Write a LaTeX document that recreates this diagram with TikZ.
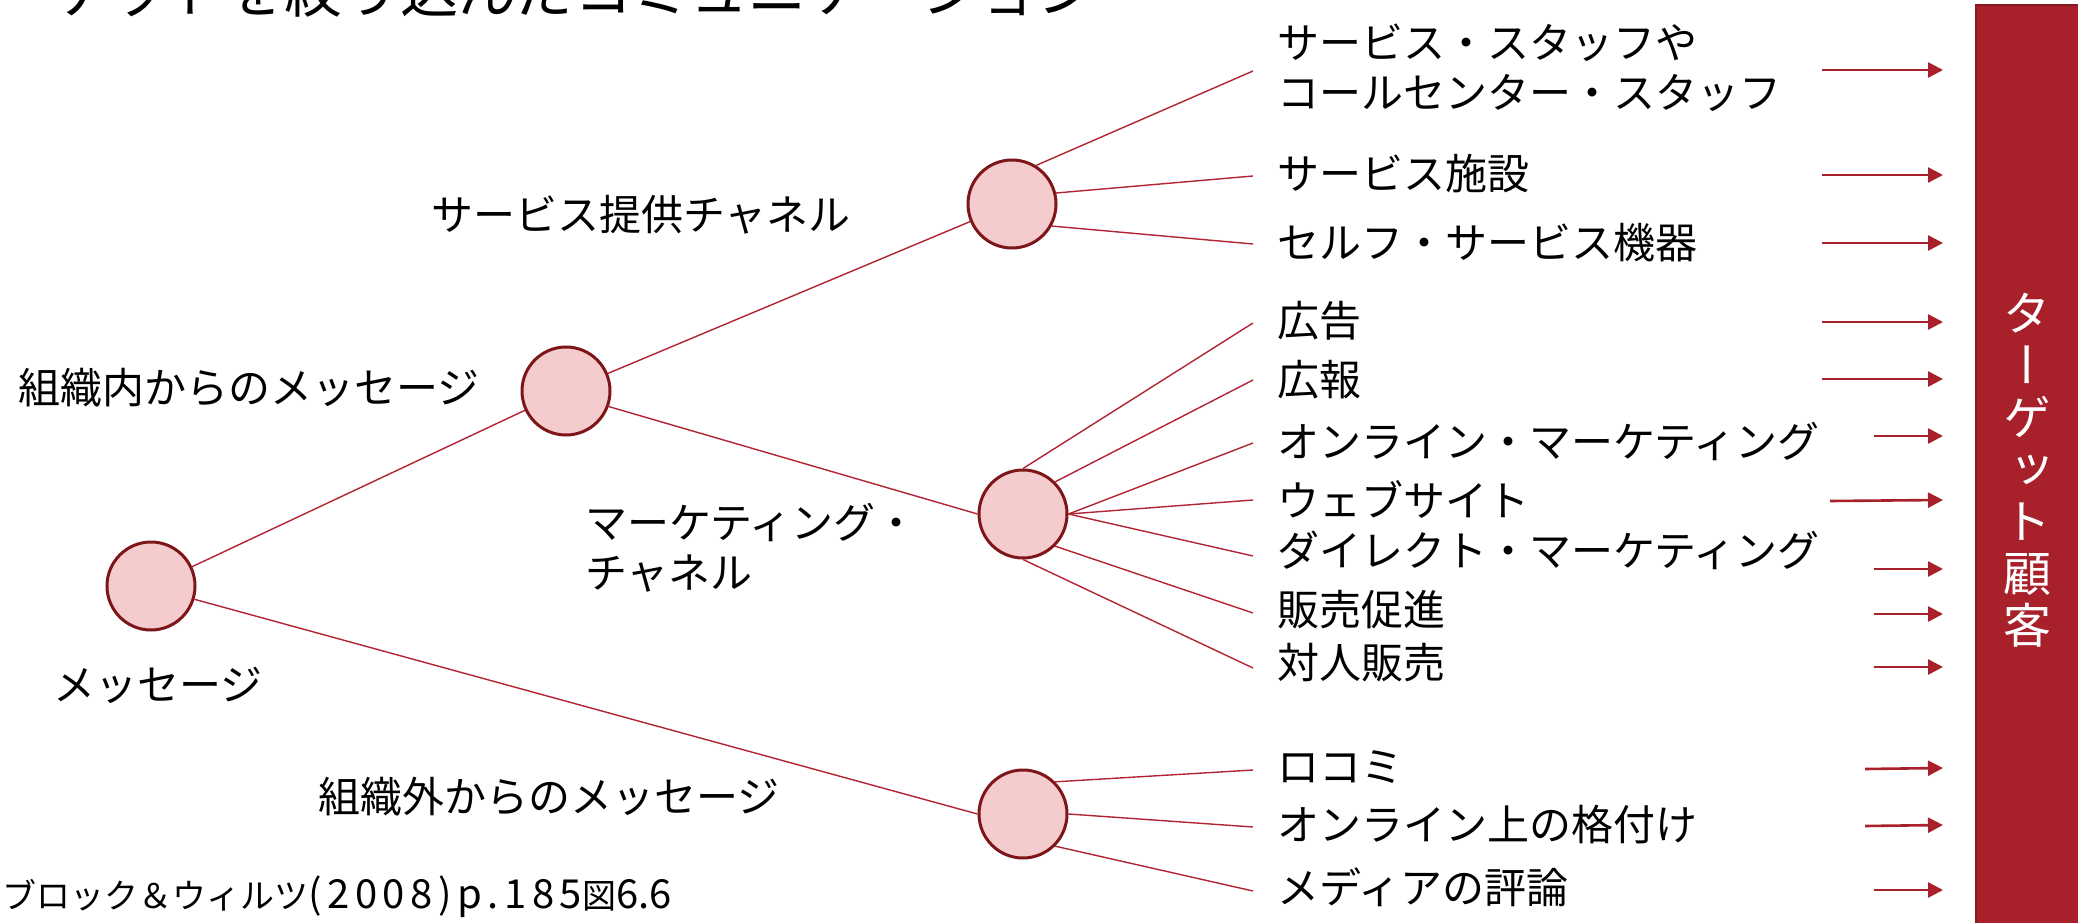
\documentclass[tikz,border=0pt]{standalone}
\usepackage{fontspec}
\setmainfont{Noto Sans CJK JP}
\newfontfamily\vertfont[RawFeature=+vert]{Noto Sans CJK JP}
\newfontfamily\widelatin[LetterSpace=14]{Noto Sans CJK JP}
\usetikzlibrary{arrows.meta}
\definecolor{linered}{HTML}{B22333}
\definecolor{circfill}{HTML}{F4CCCE}
\definecolor{circborder}{HTML}{7D1519}
\definecolor{boxred}{HTML}{A82029}
\definecolor{boxdark}{HTML}{861A20}
\begin{document}
\begin{tikzpicture}[x=1pt,y=-1pt,
  dot/.style={circle,draw=circborder,fill=circfill,line width=3pt,minimum size=88pt,inner sep=0pt},
  link/.style={draw=linered,line width=1.4pt},
  lbl/.style={anchor=west,inner sep=0pt,font=\fontsize{42}{50}\selectfont,align=left},
  arr/.style={draw=boxred,line width=2.6pt,-{Triangle[length=15pt,width=15pt]}}]
\useasboundingbox (0,0) rectangle (2078,923);
\clip (0,0) rectangle (2078,923);

% title (cut at top edge)
\node[anchor=base west,inner sep=0pt,font=\fontsize{58}{60}\selectfont] (title) at (-64,13) {ターゲットを絞り込んだコミュニケーション};

% target box
\node[fill=boxred,draw=boxdark,line width=2pt,anchor=north west,minimum width=110pt,minimum height=930pt,inner sep=0pt] (box) at (1975,4) {};
\node[text=white,align=center,inner sep=0pt,font=\vertfont\fontsize{48}{52}\selectfont] (tgt) at (2027,470) {タ\\ー\\ゲ\\ッ\\ト\\顧\\客};

% circles
\node[dot] (A) at (151,586) {};
\node[dot] (B) at (566,391) {};
\node[dot] (C) at (1012,204) {};
\node[dot] (D) at (1023,514) {};
\node[dot] (E) at (1023,814) {};

% trunk connectors
\draw[link] (A) -- (B);
\draw[link] (A.-17) -- (E.west);
\draw[link] (B) -- (C);
\draw[link] (B.-20) -- (D.west);

% branch labels
\node[lbl] (lA) at (53,685) {メッセージ};
\node[lbl] (lB) at (18,388) {組織内からのメッセージ};
\node[lbl] (lE) at (318,797) {組織外からのメッセージ};
\node[lbl] (lC) at (431,215) {サービス提供チャネル};
\node[lbl] (lD) at (585,548) {マーケティング・\\チャネル};

% leaf end points
\coordinate (l1) at (1253,71);
\coordinate (l2) at (1253,176);
\coordinate (l3) at (1253,244);
\coordinate (l4) at (1253,323);
\coordinate (l5) at (1253,380);
\coordinate (l6) at (1253,443);
\coordinate (l7) at (1253,500);
\coordinate (l8) at (1253,556);
\coordinate (l9) at (1253,613);
\coordinate (l10) at (1253,668);
\coordinate (l11) at (1253,770);
\coordinate (l12) at (1253,827);
\coordinate (l13) at (1253,891);

\draw[link] (C.58) -- (l1);
\draw[link] (C.14) -- (l2);
\draw[link] (C.-29) -- (l3);
\draw[link] (D.north) -- (l4);
\draw[link] (D.north east) -- (l5);
\draw[link] (D.east) -- (l6);
\draw[link] (D.east) -- (l7);
\draw[link] (D.east) -- (l8);
\draw[link] (D.south east) -- (l9);
\draw[link] (D.south) -- (l10);
\draw[link] (E.north east) -- (l11);
\draw[link] (E.east) -- (l12);
\draw[link] (E.south east) -- (l13);

% leaf labels
\node[lbl] (t1) at (1277,68) {サービス・スタッフや\\コールセンター・スタッフ};
\node[lbl] (t2) at (1277,174) {サービス施設};
\node[lbl] (t3) at (1277,243) {セルフ・サービス機器};
\node[lbl] (t4) at (1277,321) {広告};
\node[lbl] (t5) at (1277,380) {広報};
\node[lbl] (t6) at (1277,441) {オンライン・マーケティング};
\node[lbl] (t7) at (1277,499) {ウェブサイト};
\node[lbl] (t8) at (1277,550) {ダイレクト・マーケティング};
\node[lbl] (t9) at (1277,610) {販売促進};
\node[lbl] (t10) at (1277,663) {対人販売};
\node[lbl] (t11) at (1277,767) {ロコミ};
\node[lbl] (t12) at (1277,825) {オンライン上の格付け};
\node[lbl] (t13) at (1277,887) {メディアの評論};

% arrows toward target
\coordinate (s1) at (1822,70);   \coordinate (e1) at (1943,70);
\coordinate (s2) at (1822,175);  \coordinate (e2) at (1943,175);
\coordinate (s3) at (1822,243);  \coordinate (e3) at (1943,243);
\coordinate (s4) at (1822,322);  \coordinate (e4) at (1943,322);
\coordinate (s5) at (1822,379);  \coordinate (e5) at (1943,379);
\coordinate (s6) at (1874,436);  \coordinate (e6) at (1943,436);
\coordinate (s7) at (1830,501);  \coordinate (e7) at (1943,500);
\coordinate (s8) at (1874,569);  \coordinate (e8) at (1943,569);
\coordinate (s9) at (1874,614);  \coordinate (e9) at (1943,614);
\coordinate (s10) at (1874,667); \coordinate (e10) at (1943,667);
\coordinate (s11) at (1865,769); \coordinate (e11) at (1943,768);
\coordinate (s12) at (1865,826); \coordinate (e12) at (1943,825);
\coordinate (s13) at (1874,890); \coordinate (e13) at (1943,890);
\foreach \i in {1,...,13} {\draw[arr] (s\i) -- (e\i);}

% citation
\node[anchor=west,inner sep=0pt,font=\fontsize{34}{40}\selectfont] (cite) at (2,897) {ブロック＆ウィルツ{\widelatin\fontsize{40}{40}\selectfont(2008)p.185}図{\fontsize{40}{40}\selectfont6.6}};
\end{tikzpicture}
\end{document}
